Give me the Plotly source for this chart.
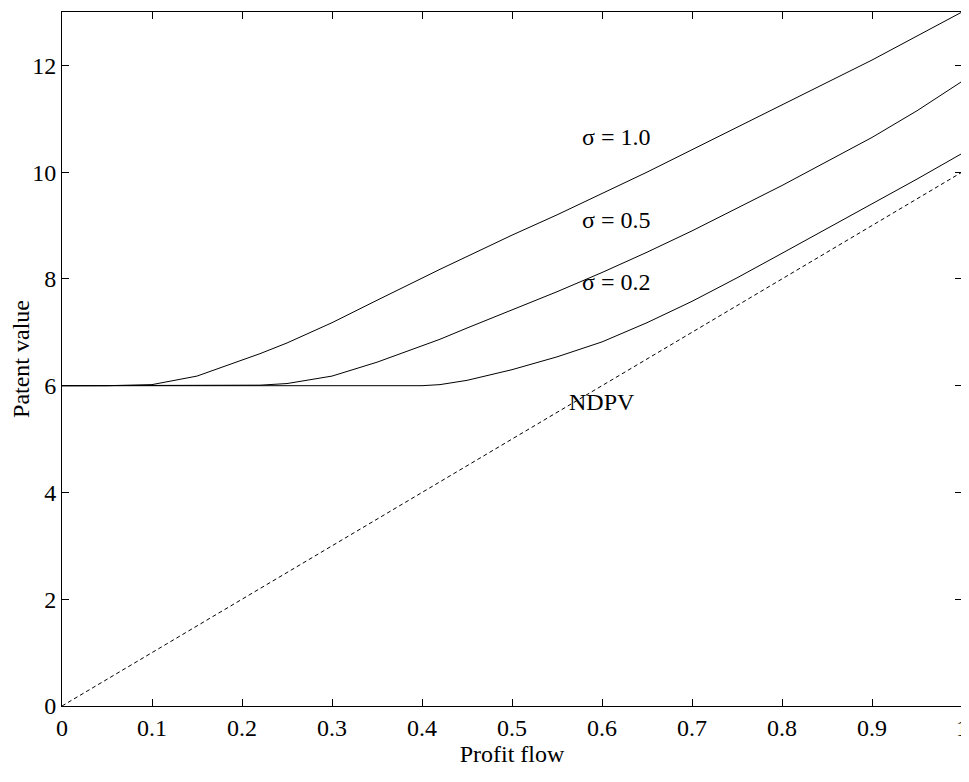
import plotly.graph_objects as go

x = [0, 0.05, 0.1, 0.15, 0.2, 0.22, 0.25, 0.3, 0.35, 0.4, 0.42, 0.45, 0.5, 0.55, 0.6, 0.65, 0.7, 0.75, 0.8, 0.85, 0.9, 0.95, 1.0]
sig10 = [6, 6, 6.02, 6.18, 6.48, 6.6, 6.8, 7.18, 7.6, 8.02, 8.18, 8.42, 8.82, 9.2, 9.6, 10.0, 10.42, 10.84, 11.26, 11.68, 12.1, 12.55, 13.0]
sig05 = [6, 6, 6, 6, 6, 6.01, 6.04, 6.18, 6.44, 6.74, 6.87, 7.08, 7.42, 7.76, 8.12, 8.5, 8.9, 9.32, 9.75, 10.2, 10.65, 11.15, 11.7]
sig02 = [6, 6, 6, 6, 6, 6, 6, 6, 6, 6, 6.02, 6.1, 6.3, 6.54, 6.82, 7.18, 7.58, 8.02, 8.48, 8.94, 9.4, 9.87, 10.35]
ndpv_x = [0, 1]
ndpv_y = [0, 10]

labels = ["\u03c3 = 1.0", "\u03c3 = 0.5", "\u03c3 = 0.2", "NDPV"]
label_x = [0.615, 0.615, 0.615, 0.6]
label_y = [10.65, 9.1, 7.95, 5.7]
ticks_x = [0, 0.1, 0.2, 0.3, 0.4, 0.5, 0.6, 0.7, 0.8, 0.9, 1]
ticks_y = [0, 2, 4, 6, 8, 10, 12]

font = dict(family="Liberation Serif", size=24, color="black")
line = dict(color="black", width=1)

fig = go.Figure()
for y in [sig10, sig05, sig02]:
    fig.add_trace(go.Scatter(x=x, y=y, mode="lines", line=line))
fig.add_trace(go.Scatter(x=ndpv_x, y=ndpv_y, mode="lines", line=dict(color="black", width=1, dash="4px,3px")))
for t, lx, ly in zip(labels, label_x, label_y):
    fig.add_annotation(x=lx, y=ly, text=t, showarrow=False, font=font)

axis = dict(showgrid=False, zeroline=False, showline=True, linecolor="black", linewidth=1,
            mirror="ticks", ticks="inside", ticklen=7, tickcolor="black", tickfont=font,
            automargin=False)
fig.update_layout(
    width=961, height=774, plot_bgcolor="white", paper_bgcolor="white",
    showlegend=False, margin=dict(l=54, r=7, t=4, b=76, autoexpand=False), font=font,
    xaxis=dict(axis, range=[0, 1], tickvals=ticks_x, ticktext=[f"{v:g}" for v in ticks_x],
               title=dict(text="Profit flow", font=font, standoff=4)),
    yaxis=dict(axis, range=[0, 13], tickvals=ticks_y,
               title=dict(text="Patent value", font=font, standoff=4)),
)
fig.write_html("out.html")
